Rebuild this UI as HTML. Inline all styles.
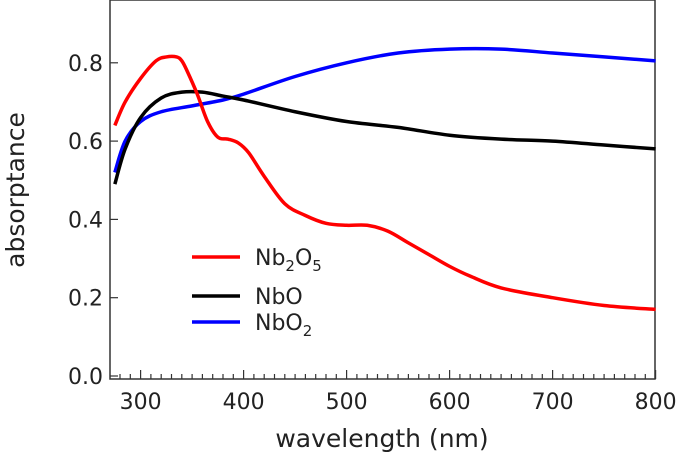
<!DOCTYPE html>
<html><head><meta charset="utf-8"><style>
body{margin:0;background:#fff}
svg text{font-family:"DejaVu Sans","Liberation Sans",sans-serif;fill:#222}
</style></head><body>
<svg id="chart" width="677" height="457"></svg>
<script>
const wlNb2O5=[275,285,300,315,325,335,340,345,355,365,375,385,395,405,420,440,460,480,500,520,540,560,580,600,620,650,700,750,800];
const valNb2O5=[0.64,0.70,0.76,0.805,0.815,0.815,0.805,0.78,0.72,0.65,0.61,0.605,0.595,0.57,0.51,0.44,0.41,0.39,0.385,0.385,0.37,0.34,0.31,0.28,0.255,0.225,0.20,0.18,0.17];
const wlNbO=[275,285,300,320,340,360,380,400,450,500,550,600,650,700,750,800];
const valNbO=[0.49,0.58,0.66,0.71,0.725,0.725,0.715,0.705,0.675,0.65,0.635,0.615,0.605,0.60,0.59,0.58];
const wlNbO2=[275,285,300,320,350,380,400,450,500,550,600,650,700,750,800];
const valNbO2=[0.52,0.60,0.65,0.675,0.69,0.705,0.72,0.765,0.80,0.825,0.835,0.835,0.825,0.815,0.805];
const xTicks=[300,400,500,600,700,800];
const yTicks=[0.0,0.2,0.4,0.6,0.8];
const NS="http://www.w3.org/2000/svg";
const svg=document.getElementById('chart');
const L=110,R=655,T=0,B=379;
const x=w=>140.6+(w-300)*1.03;
const y=v=>376-v*391.5;
function mk(t,a,p){const e=document.createElementNS(NS,t);for(const k in a)e.setAttribute(k,a[k]);(p||svg).appendChild(e);return e;}
const frame=mk('rect',{x:L,y:T,width:R-L,height:B-T,fill:'none',stroke:'#333','stroke-width':1.5});


for(let w=280;w<=800;w+=10){
 const major=w%100===0;
 const t=mk('line',{x1:x(w),x2:x(w),y1:B,y2:B-(major?9:5),stroke:'#333','stroke-width':1.2});
 
 
}
xTicks.forEach(w=>{
 const t=mk('text',{x:x(w),y:409,'text-anchor':'middle','font-size':22});t.textContent=w;
 
 
});
yTicks.forEach(v=>{
 const l=mk('line',{x1:L,x2:L+8,y1:y(v),y2:y(v),stroke:'#333','stroke-width':1.2});
 
 
 const t=mk('text',{x:103,y:y(v)+8,'text-anchor':'end','font-size':22});t.textContent=v.toFixed(1);
 
 
});
const xt=mk('text',{x:382,y:447,'text-anchor':'middle','font-size':25});xt.textContent='wavelength (nm)';


const yt=mk('text',{x:0,y:0,'text-anchor':'middle','font-size':25,transform:'translate(24,190) rotate(-90)'});yt.textContent='absorptance';


function line(ws,vs,c,name){
 const P=ws.map((w,i)=>[x(w),y(vs[i])]);
 let d='M'+P[0][0]+','+P[0][1];
 for(let i=0;i<P.length-1;i++){
  const p0=P[Math.max(0,i-1)],p1=P[i],p2=P[i+1],p3=P[Math.min(P.length-1,i+2)];
  const c1=[p1[0]+(p2[0]-p0[0])/6,p1[1]+(p2[1]-p0[1])/6];
  const c2=[p2[0]-(p3[0]-p1[0])/6,p2[1]-(p3[1]-p1[1])/6];
  d+=' C'+c1+' '+c2+' '+p2;
 }
 const p=mk('path',{d:d,fill:'none',stroke:c,'stroke-width':3.5,'stroke-linejoin':'round'});
 
 
}
line(wlNbO2,valNbO2,'#0000ff','series-nbo2');
line(wlNbO,valNbO,'#000','series-nbo');
line(wlNb2O5,valNb2O5,'#ff0000','series-nb2o5');
const leg=[['#ff0000',257,'Nb<tspan font-size="15" dy="6">2</tspan><tspan dy="-6">O</tspan><tspan font-size="15" dy="6">5</tspan>'],['#000',296,'NbO'],['#0000ff',322,'NbO<tspan font-size="15" dy="6">2</tspan>']];
leg.forEach(([c,yy,txt])=>{
 const g=mk('g',{});
 
 
 mk('line',{x1:192,x2:240,y1:yy,y2:yy,stroke:c,'stroke-width':3.5},g);
 const t=mk('text',{x:255,y:yy+8,'font-size':22},g);t.innerHTML=txt;
});
</script>
</body></html>
